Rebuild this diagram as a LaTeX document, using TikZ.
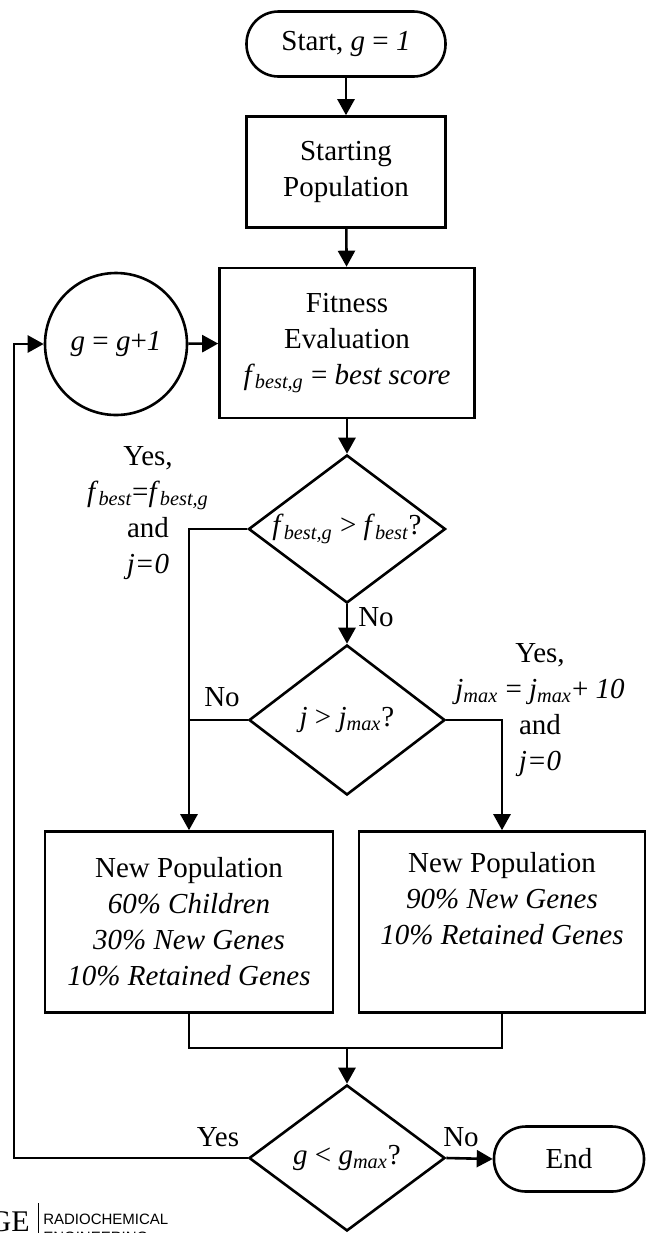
\documentclass[tikz,border=0pt]{standalone}
\usepackage{fontspec}
\setmainfont{Liberation Serif}
\newfontfamily\wmfont{Liberation Sans}
\usetikzlibrary{shapes.geometric,arrows.meta}
\newcommand\sbs[1]{\textsubscript{\itshape #1}}
\begin{document}
\begin{tikzpicture}[x=0.5pt,y=-0.5pt,
  line width=1.3pt,
  every node/.style={font=\fontsize{14.5}{18}\selectfont},
  box/.style={draw, rectangle, inner sep=0pt, align=center},
  term/.style={box, rounded corners=16pt},
  dec/.style={draw, diamond, inner sep=0pt, aspect=1.33},
  arr/.style={-{Triangle[length=8pt,width=8.5pt]}},
  lbl/.style={align=center, inner sep=0pt}
]
\useasboundingbox (0,0) rectangle (646,1233);
\clip (0,0) rectangle (646,1233);

\node[term, minimum width=99.5pt, minimum height=32.5pt] (start) at (346,44) {Start, \textit{g} = \textit{1}};
\node[box, minimum width=99.5pt, minimum height=55.5pt] (sp) at (346,172) {Starting\\Population};
\node[box, minimum width=127.5pt, minimum height=75pt] (fit) at (347,343) {Fitness\\Evaluation\\\textit{f}\sbs{best,g} = \textit{best score}};
\node[draw, circle, minimum size=71pt, inner sep=0pt] (circ) at (116,344) {\textit{g} = \textit{g}+\textit{1}};
\node[dec, minimum width=98.5pt, minimum height=74pt] (d1) at (347,529) {\textit{f}\sbs{best,g} > \textit{f}\sbs{best}?};
\node[dec, minimum width=98pt, minimum height=75pt] (d2) at (347,720) {\textit{j} > \textit{j}\sbs{max}?};
\node[box, minimum width=144pt, minimum height=90.5pt] (npl) at (189,922) {New Population\\\textit{60\% Children}\\\textit{30\% New Genes}\\\textit{10\% Retained Genes}};
\node[box, minimum width=143pt, minimum height=90.5pt] (npr) at (502,922) {New Population\\\textit{90\% New Genes}\\\textit{10\% Retained Genes}\\\strut};
\node[dec, minimum width=98pt, minimum height=73pt] (d3) at (347,1158) {\textit{g} < \textit{g}\sbs{max}?};
\node[term, minimum width=75pt, minimum height=32.5pt] (end) at (569,1159) {End};

\coordinate (m) at (347,1048);
\coordinate (lp) at (14,1158);

\draw[arr] (start) -- (sp);
\draw[arr] (sp) -- (fit);
\draw[arr] (circ) -- (fit);
\draw[arr] (fit) -- (d1);
\draw[arr] (d1.south) -- (d2.north);
\draw[arr] (d1.west) -- (d1.west -| npl.north) -- (npl.north);
\draw (d2.west) -- (d2.west -| npl.north);
\draw[arr] (d2.east) -- (d2.east -| npr.north) -- (npr.north);
\draw (npl.south) -- (npl.south |- m) -- (npr.south |- m) -- (npr.south);
\draw[arr] (m) -- (d3.north);
\draw[arr] (d3.west) -- (d3.west -| lp) -- (lp |- circ.west) -- (circ.west);
\draw[arr] (d3.east) -- (end.west);

\node[lbl] (l1) at (148,513) {Yes,\\\textit{f}\sbs{best}=\textit{f}\sbs{best,g}\\and\\\textit{j=0}};
\node[lbl] (l2) at (376,617) {No};
\node[lbl] (l3) at (222,697) {No};
\node[lbl] (l4) at (540,710) {Yes,\\\textit{j}\sbs{max} = \textit{j}\sbs{max}+ \textit{10}\\and\\\textit{j=0}};
\node[lbl] (l5) at (218,1137) {Yes};
\node[lbl] (l6) at (461,1137) {No};

\node[anchor=west, inner sep=0pt, font={\wmfont\fontsize{7.5}{8}\selectfont}] (wm1) at (42,1219) {RADIOCHEMICAL};
\node[anchor=west, inner sep=0pt, font={\wmfont\fontsize{7.5}{8}\selectfont}] (wm2) at (42,1237) {ENGINEERING};
\draw[line width=0.4pt] (38,1203) -- (38,1240);
\node[anchor=east, inner sep=0pt, font=\fontsize{15}{15}\selectfont] (wm3) at (31,1222) {GE};
\end{tikzpicture}
\end{document}
